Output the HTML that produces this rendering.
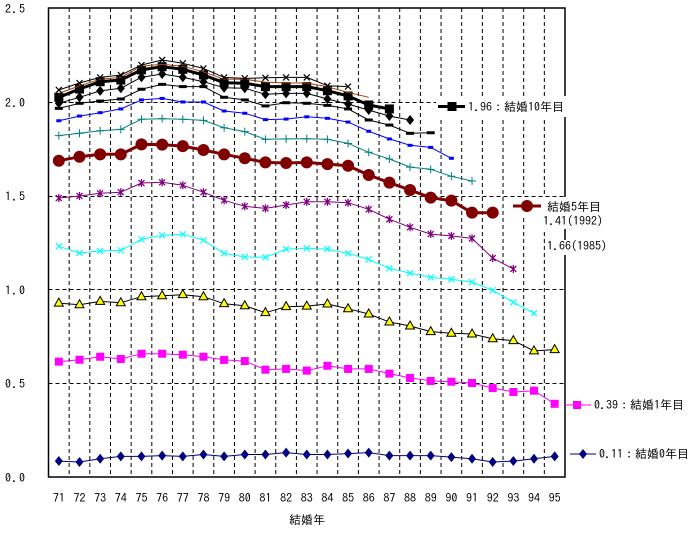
<!DOCTYPE html>
<html><head><meta charset="utf-8"><style>
html,body{margin:0;padding:0;background:#fff;}
svg text{font-family:"IPAGothic","Liberation Mono","Noto Sans CJK JP",monospace;font-size:12px;fill:#000;}
</style></head><body>
<svg id="chart" width="692" height="531" xmlns="http://www.w3.org/2000/svg">
<g id="grid"></g>
<g id="series"></g>
<g id="axes"></g>
<g id="legend"></g>
</svg>
<script>
const categories = ["71","72","73","74","75","76","77","78","79","80","81","82","83","84","85","86","87","88","89","90","91","92","93","94","95"];
const yTicks = [0, 0.5, 1.0, 1.5, 2.0, 2.5];
const yTickLabels = ["0.0","0.5","1.0","1.5","2.0","2.5"];
const s12 = [2.063,2.10,2.13,2.143,2.196,2.223,2.205,2.178,2.13,2.125,2.128,2.13,2.13,2.086,2.081];
const s11 = [2.045,2.085,2.12,2.13,2.19,2.2,2.19,2.16,2.12,2.12,2.105,2.10,2.10,2.08,2.05,2.024];
const s10 = [2.024,2.068,2.107,2.116,2.17,2.187,2.173,2.143,2.102,2.099,2.081,2.081,2.081,2.059,2.031,1.983,1.962];
const s9 = [1.992,2.024,2.058,2.072,2.131,2.148,2.131,2.107,2.075,2.072,2.04,2.045,2.045,2.015,1.988,1.956,1.924,1.903];
const s8 = [1.965,1.992,2.004,2.015,2.067,2.093,2.081,2.081,2.024,2.01,1.978,1.995,1.992,1.981,1.962,1.903,1.876,1.832,1.835];
const s7 = [1.899,1.924,1.942,1.962,2.01,2.018,1.999,1.999,1.951,1.939,1.905,1.908,1.92,1.912,1.892,1.843,1.802,1.768,1.757,1.699];
const s6 = [1.82,1.832,1.846,1.853,1.907,1.91,1.907,1.901,1.862,1.841,1.8,1.802,1.803,1.8,1.778,1.731,1.695,1.652,1.64,1.603,1.578];
const s5 = [1.686,1.707,1.72,1.72,1.773,1.772,1.764,1.743,1.72,1.699,1.677,1.674,1.677,1.668,1.659,1.61,1.569,1.53,1.489,1.473,1.409,1.409];
const s4 = [1.487,1.498,1.512,1.518,1.567,1.571,1.555,1.518,1.475,1.443,1.432,1.45,1.467,1.467,1.462,1.427,1.374,1.331,1.295,1.285,1.272,1.167,1.109];
const s3 = [1.23,1.194,1.205,1.208,1.267,1.288,1.294,1.262,1.192,1.173,1.171,1.215,1.219,1.215,1.192,1.16,1.112,1.087,1.064,1.054,1.039,0.995,0.931,0.873];
const s2 = [0.927,0.918,0.936,0.929,0.961,0.966,0.972,0.961,0.924,0.913,0.876,0.908,0.911,0.922,0.897,0.869,0.826,0.805,0.775,0.766,0.762,0.737,0.727,0.672,0.679];
const s1 = [0.615,0.625,0.641,0.629,0.657,0.657,0.652,0.641,0.624,0.618,0.572,0.576,0.567,0.593,0.576,0.576,0.551,0.528,0.512,0.508,0.501,0.474,0.453,0.46,0.39];
const s0 = [0.085,0.08,0.097,0.11,0.11,0.114,0.11,0.12,0.11,0.12,0.12,0.13,0.12,0.12,0.125,0.13,0.114,0.114,0.114,0.106,0.097,0.08,0.085,0.097,0.11];

const NS="http://www.w3.org/2000/svg";
const L=48.5,R=565,T=8,B=477,ymax=2.5;
const bw=(R-L)/categories.length;
const xPos=i=>L+bw*(i+0.5);
const yPos=v=>B-(v/ymax)*(B-T);
function mk(tag,attrs,parent){const e=document.createElementNS(NS,tag);for(const k in attrs)e.setAttribute(k,attrs[k]);parent.appendChild(e);return e;}
const grid=document.getElementById('grid'),sg=document.getElementById('series'),ax=document.getElementById('axes'),lg=document.getElementById('legend');

for(let i=1;i<categories.length;i++){const x=L+bw*i;const l=mk('line',{x1:x,x2:x,y1:T,y2:B,stroke:'#000','stroke-width':1,'stroke-dasharray':'4,3'},grid);

}
yTicks.forEach((v,i)=>{if(v>0&&v<ymax){const y=Math.round(yPos(v))+0.5;const l=mk('line',{x1:L,x2:R,y1:y,y2:y,stroke:'#000','stroke-width':1,'stroke-dasharray':'4,3'},grid);

}
const t=mk('text',{x:5,y:yPos(v)+5,'letter-spacing':'1'},ax);t.textContent=yTickLabels[i];

});
categories.forEach((c,i)=>{const t=mk('text',{x:xPos(i),y:502,'text-anchor':'middle'},ax);t.textContent=c;

});
const frame=mk('rect',{x:L,y:T,width:R-L,height:B-T,fill:'none',stroke:'#000','stroke-width':1.5},ax);


const xt=mk('text',{x:307,y:524,'text-anchor':'middle'},ax);xt.textContent='結婚年';



function marker(type,x,y,col,p){let e;
 if(type==='sq')e=mk('rect',{x:x-4.5,y:y-4.5,width:9,height:9,fill:col},p);
 else if(type==='sqm')e=mk('rect',{x:x-4,y:y-4,width:8,height:8,fill:col},p);
 else if(type==='sqs')e=mk('rect',{x:x-2.5,y:y-1.5,width:5,height:3,fill:col},p);
 else if(type==='dia')e=mk('path',{d:`M${x} ${y-5}L${x+4} ${y}L${x} ${y+5}L${x-4} ${y}Z`,fill:col},p);
 else if(type==='circ')e=mk('circle',{cx:x,cy:y,r:6,fill:col},p);
 else if(type==='dash')e=mk('rect',{x:x-4,y:y-1.5,width:8,height:3,fill:col},p);
 else if(type==='plus')e=mk('path',{d:`M${x-4} ${y}H${x+4}M${x} ${y-4}V${y+4}`,stroke:col,'stroke-width':1},p);
 else if(type==='x')e=mk('path',{d:`M${x-3} ${y-3}L${x+3} ${y+3}M${x+3} ${y-3}L${x-3} ${y+3}`,stroke:col,'stroke-width':1.2},p);
 else if(type==='ast')e=mk('path',{d:`M${x-3} ${y-3}L${x+3} ${y+3}M${x+3} ${y-3}L${x-3} ${y+3}M${x} ${y-4}V${y+4}`,stroke:col,'stroke-width':1.3},p);
 else if(type==='tri')e=mk('path',{d:`M${x} ${y-5}L${x+4.5} ${y+3}L${x-4.5} ${y+3}Z`,fill:'#ffff00',stroke:'#000','stroke-width':1},p);
 if(e){
 }
}
const seriesDefs=[
 [s0,'#000080',1,'dia','series-0-year'],
 [s1,'#ff00ff',1,'sqm','series-1-year'],
 [s2,'#000000',1,'tri','series-2-year'],
 [s3,'#00ffff',1,'x','series-3-year'],
 [s4,'#800080',1,'ast','series-4-year'],
 [s5,'#800000',3,'circ','series-5-year'],
 [s6,'#008080',1,'plus','series-6-year'],
 [s7,'#0000ff',1,'sqs','series-7-year'],
 [s8,'#000000',1,'dash','series-8-year'],
 [s9,'#000000',1,'dia','series-9-year'],
 [s10,'#000000',3,'sq','series-10-year'],
 [s11,'#a0400a',1,'none','series-11-year'],
 [s12,'#000000',1,'x','series-12-year']
];
seriesDefs.forEach(([d,col,w,m,name])=>{
 const g=mk('g',{},sg);
 
 
 const pts=d.map((v,i)=>xPos(i).toFixed(1)+','+yPos(v).toFixed(1)).join(' ');
 const pl=mk('polyline',{points:pts,fill:'none',stroke:col,'stroke-width':w,'stroke-linejoin':'round'},g);
 
 
 d.forEach((v,i)=>marker(m,xPos(i),yPos(v),m==='tri'?'#000':col,g));
});

function bg(x,y,w,h){const r=mk('rect',{x:x,y:y,width:w,height:h,fill:'#fff'},lg);

}
function txt(x,y,s,name){const t=mk('text',{x:x,y:y},lg);t.textContent=s;

}
function lline(x1,x2,y,col,w,name){const l=mk('line',{x1:x1,x2:x2,y1:y,y2:y,stroke:col,'stroke-width':w},lg);

}
bg(436,96,132,21);
lline(438,465,106.5,'#000',3,'legend-line-10-year');marker('sq',452,106.5,'#000',lg);
txt(468,111,'1.96：結婚10年目','legend-label-10-year');
bg(504,197,110,18);
bg(542,215,70,14);
bg(546,240,70,15);
lline(513,541,206,'#800000',3,'legend-line-5-year');marker('circ',527,206,'#800000',lg);
txt(547,211,'結婚5年目','legend-label-5-year');
txt(543,225,'1.41(1992)','legend-note-1992');
txt(547,250,'1.66(1985)','legend-note-1985');
bg(566,396,126,18);
lline(565,591,405,'#ff00ff',1,'legend-line-1-year');marker('sqm',577,405,'#ff00ff',lg);
txt(594,409,'0.39：結婚1年目','legend-label-1-year');
bg(568,445,124,18);
lline(570,596,454,'#000080',1,'legend-line-0-year');marker('dia',583,454,'#000080',lg);
txt(599,458,'0.11：結婚0年目','legend-label-0-year');
</script>
</body></html>
